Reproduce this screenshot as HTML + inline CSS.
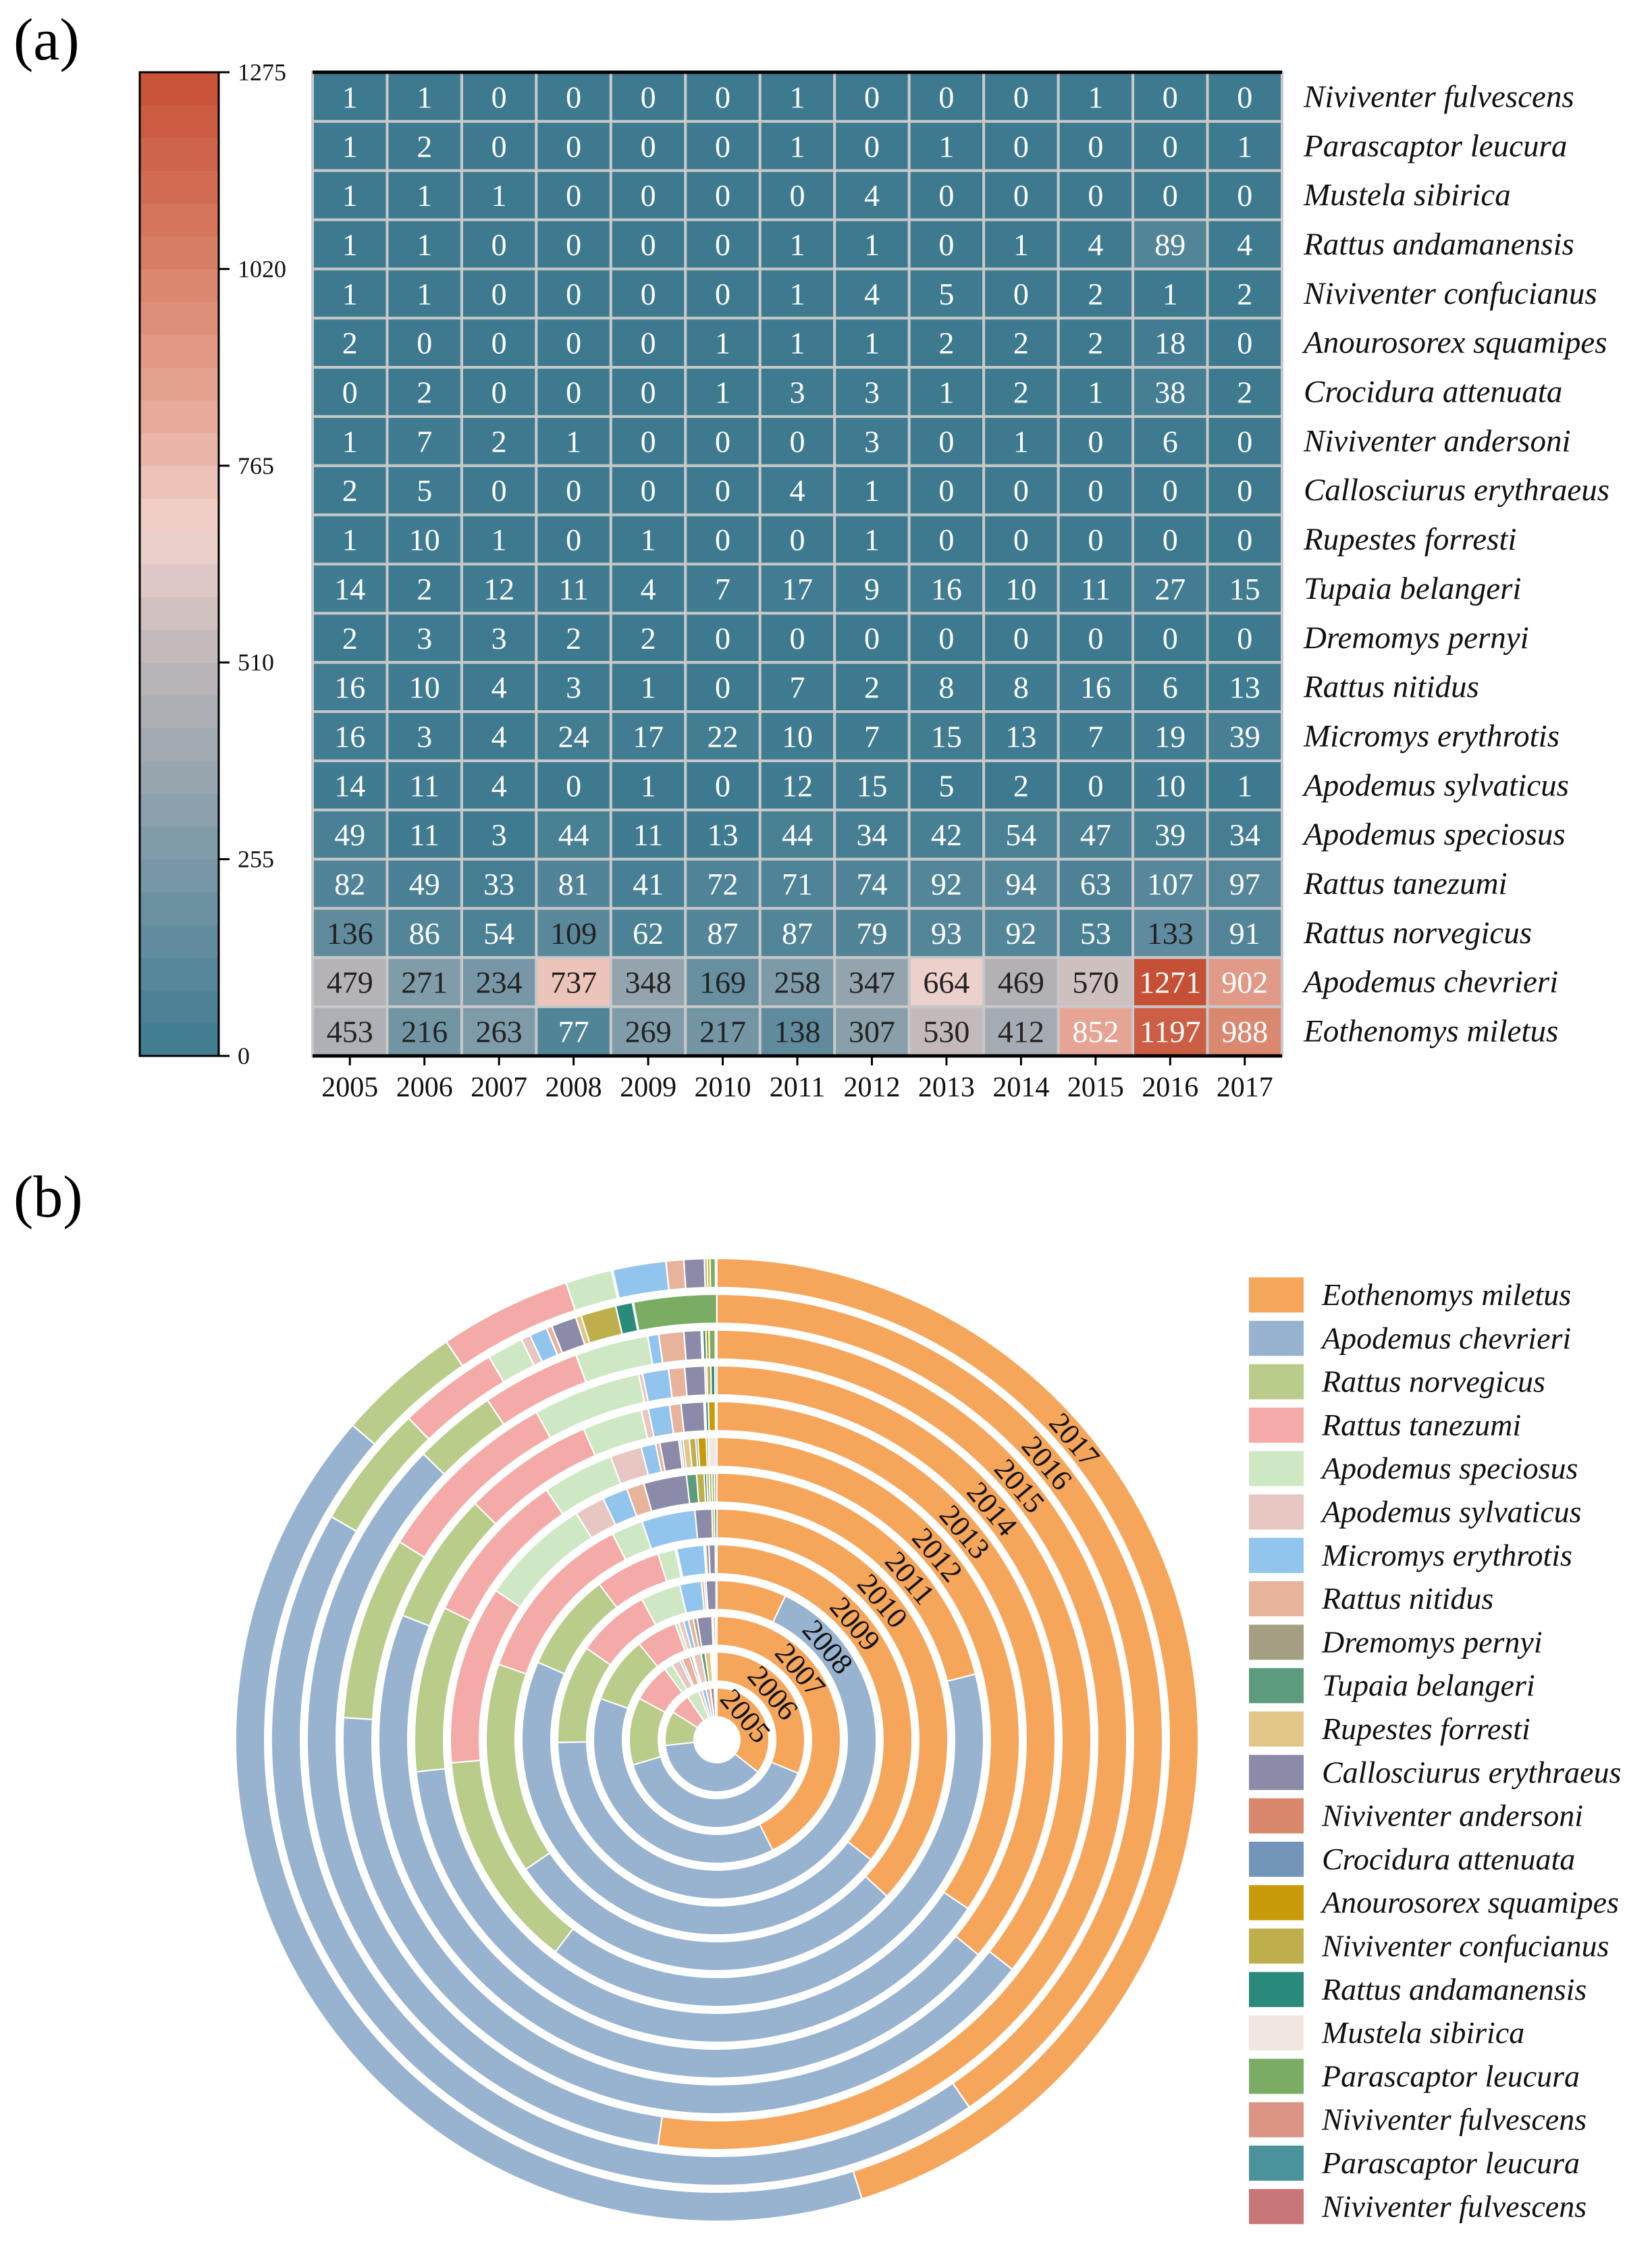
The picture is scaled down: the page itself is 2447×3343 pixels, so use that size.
<!DOCTYPE html>
<html><head><meta charset="utf-8"><style>
body{margin:0;background:#fff;}
svg{display:block;font-family:"Liberation Serif",serif;}
</style></head><body>
<svg id="fig" width="2447" height="3343" viewBox="0 0 2447 3343">
<text x="20" y="88" font-size="88">(a)</text>
<text x="20" y="1802" font-size="88">(b)</text>
<g id="heat"></g>
<g id="cbar"></g>
<g id="rings"></g>
<g id="legend"></g>
</svg>
<script>
const years = ["2005","2006","2007","2008","2009","2010","2011","2012","2013","2014","2015","2016","2017"];
const species = ["Niviventer fulvescens","Parascaptor leucura","Mustela sibirica","Rattus andamanensis","Niviventer confucianus","Anourosorex squamipes","Crocidura attenuata","Niviventer andersoni","Callosciurus erythraeus","Rupestes forresti","Tupaia belangeri","Dremomys pernyi","Rattus nitidus","Micromys erythrotis","Apodemus sylvaticus","Apodemus speciosus","Rattus tanezumi","Rattus norvegicus","Apodemus chevrieri","Eothenomys miletus"];
const rowNfulvescens = [1,1,0,0,0,0,1,0,0,0,1,0,0];
const rowParascaptor = [1,2,0,0,0,0,1,0,1,0,0,0,1];
const rowMustela = [1,1,1,0,0,0,0,4,0,0,0,0,0];
const rowRandamanensis = [1,1,0,0,0,0,1,1,0,1,4,89,4];
const rowNconfucianus = [1,1,0,0,0,0,1,4,5,0,2,1,2];
const rowAnourosorex = [2,0,0,0,0,1,1,1,2,2,2,18,0];
const rowCrocidura = [0,2,0,0,0,1,3,3,1,2,1,38,2];
const rowNandersoni = [1,7,2,1,0,0,0,3,0,1,0,6,0];
const rowCallosciurus = [2,5,0,0,0,0,4,1,0,0,0,0,0];
const rowRupestes = [1,10,1,0,1,0,0,1,0,0,0,0,0];
const rowTupaia = [14,2,12,11,4,7,17,9,16,10,11,27,15];
const rowDremomys = [2,3,3,2,2,0,0,0,0,0,0,0,0];
const rowRnitidus = [16,10,4,3,1,0,7,2,8,8,16,6,13];
const rowMicromys = [16,3,4,24,17,22,10,7,15,13,7,19,39];
const rowAsylvaticus = [14,11,4,0,1,0,12,15,5,2,0,10,1];
const rowAspeciosus = [49,11,3,44,11,13,44,34,42,54,47,39,34];
const rowRtanezumi = [82,49,33,81,41,72,71,74,92,94,63,107,97];
const rowRnorvegicus = [136,86,54,109,62,87,87,79,93,92,53,133,91];
const rowAchevrieri = [479,271,234,737,348,169,258,347,664,469,570,1271,902];
const rowEothenomys = [453,216,263,77,269,217,138,307,530,412,852,1197,988];
const matrix = [rowNfulvescens,rowParascaptor,rowMustela,rowRandamanensis,rowNconfucianus,rowAnourosorex,rowCrocidura,rowNandersoni,rowCallosciurus,rowRupestes,rowTupaia,rowDremomys,rowRnitidus,rowMicromys,rowAsylvaticus,rowAspeciosus,rowRtanezumi,rowRnorvegicus,rowAchevrieri,rowEothenomys];
const cbarTicks = [0,255,510,765,1020,1275];
const legendNames = ["Eothenomys miletus","Apodemus chevrieri","Rattus norvegicus","Rattus tanezumi","Apodemus speciosus","Apodemus sylvaticus","Micromys erythrotis","Rattus nitidus","Dremomys pernyi","Tupaia belangeri","Rupestes forresti","Callosciurus erythraeus","Niviventer andersoni","Crocidura attenuata","Anourosorex squamipes","Niviventer confucianus","Rattus andamanensis","Mustela sibirica","Parascaptor leucura","Niviventer fulvescens","Parascaptor leucura","Niviventer fulvescens"];
const legendColors = ["#f5a65b","#98b3cf","#b9cc8a","#f4aaa6","#cfe8c4","#e8c6c2","#92c5ee","#e7b39b","#a59e83","#5d9b7d","#e2c688","#8b8ba9","#d9876a","#7495ba","#c99b0b","#bfaf4c","#2a8a7c","#f0e8e0","#7aad63","#dc9584","#4a939c","#c97679"];
const ringOrder = ["Eothenomys miletus","Apodemus chevrieri","Rattus norvegicus","Rattus tanezumi","Apodemus speciosus","Apodemus sylvaticus","Micromys erythrotis","Rattus nitidus","Dremomys pernyi","Tupaia belangeri","Rupestes forresti","Callosciurus erythraeus","Niviventer andersoni","Crocidura attenuata","Anourosorex squamipes","Niviventer confucianus","Rattus andamanensis","Mustela sibirica","Parascaptor leucura","Niviventer fulvescens"];
const ringColors = ["#f5a65b","#98b3cf","#b9cc8a","#f4aaa6","#cfe8c4","#e8c6c2","#92c5ee","#e7b39b","#a59e83","#8b8ba9","#e8c6c2","#5d9b7d","#e2c688","#bfaf4c","#2a8a7c","#c99b0b","#7aad63","#f0e8e0","#7aad63","#dc9584"];

const NS="http://www.w3.org/2000/svg";
function mk(tag,attrs,parent){const e=document.createElementNS(NS,tag);for(const k in attrs)e.setAttribute(k,attrs[k]);parent.appendChild(e);return e;}
const stops=[[0,[61,122,144]],[255,[124,154,168]],[510,[189,182,185]],[680,[241,211,205]],[850,[230,165,149]],[1020,[217,129,105]],[1275,[198,79,53]]];
function color(v){for(let i=1;i<stops.length;i++){if(v<=stops[i][0]){const a=stops[i-1],b=stops[i];const t=(v-a[0])/(b[0]-a[0]);return "rgb("+a[1].map((c,j)=>Math.round(c+(b[1][j]-c)*t)).join(",")+")";}}return "rgb(198,79,53)";}
const X0=463,X1=1899,Y0=107,Y1=1564;
const cw=(X1-X0)/years.length, rh=(Y1-Y0)/species.length;
const xPos=i=>X0+i*cw, yPos=r=>Y0+r*rh;
const heat=document.getElementById('heat');
matrix.forEach((row,r)=>{row.forEach((v,c)=>{
  const rect=mk('rect',{x:xPos(c),y:yPos(r),width:cw,height:rh,fill:color(v),stroke:'#c8c8c8','stroke-width':4},heat);
  
  
  const dark=(v>=108&&v<=800);
  const t=mk('text',{x:xPos(c)+cw/2,y:yPos(r)+rh/2+16,'font-size':46,'text-anchor':'middle',fill:dark?'#222':'#fff'},heat);
  t.textContent=v;
  
  
});
  const lab=mk('text',{x:1931,y:yPos(r)+rh/2+15,'font-size':47,'font-style':'italic',fill:'#111'},heat);
  lab.textContent=species[r];
  
  
});
mk('line',{x1:X0,x2:X1,y1:Y0,y2:Y0,stroke:'#000','stroke-width':5},heat);
mk('line',{x1:X0,x2:X1,y1:Y1,y2:Y1,stroke:'#000','stroke-width':5},heat);
years.forEach((y,i)=>{
  mk('line',{x1:xPos(i)+cw/2,x2:xPos(i)+cw/2,y1:Y1,y2:Y1+14,stroke:'#000','stroke-width':3},heat);
  const t=mk('text',{x:xPos(i)+cw/2,y:Y1+60,'font-size':42,'text-anchor':'middle',fill:'#111'},heat);
  t.textContent=y;
  
  
});
const cb=document.getElementById('cbar');
const CX0=207,CX1=324,CMAX=1275;
const cy=v=>Y1-(v/CMAX)*(Y1-Y0);
const nb=30;
for(let i=0;i<nb;i++){const v0=i*CMAX/nb,v1=(i+1)*CMAX/nb;mk('rect',{x:CX0,y:cy(v1),width:CX1-CX0,height:cy(v0)-cy(v1)+0.5,fill:color((v0+v1)/2)},cb);}
mk('rect',{x:CX0,y:Y0,width:CX1-CX0,height:Y1-Y0,fill:'none',stroke:'#000','stroke-width':3},cb);
cbarTicks.forEach(v=>{
  mk('line',{x1:CX1,x2:CX1+16,y1:cy(v),y2:cy(v),stroke:'#000','stroke-width':3},cb);
  const t=mk('text',{x:CX1+28,y:cy(v)+12,'font-size':36,fill:'#111'},cb);
  t.textContent=v;
  
  
});
const rings=document.getElementById('rings');
const CXr=1062,CYr=2577,R0=34,pitch=53,band=43;
function pt(r,a){return [CXr+r*Math.sin(a),CYr-r*Math.cos(a)];}
function sector(r1,r2,a0,a1){const lg=(a1-a0)>Math.PI?1:0;const p1=pt(r2,a0),p2=pt(r2,a1),p3=pt(r1,a1),p4=pt(r1,a0);
return `M${p1}A${r2},${r2} 0 ${lg} 1 ${p2}L${p3}A${r1},${r1} 0 ${lg} 0 ${p4}Z`;}
years.forEach((y,yi)=>{
  const vals=ringOrder.map(n=>matrix[species.indexOf(n)][yi]);
  const tot=vals.reduce((a,b)=>a+b,0);
  const r1=R0+yi*pitch, r2=r1+band;
  let a=0;
  vals.forEach((v,k)=>{
    if(v<=0)return;
    const da=v/tot*2*Math.PI;
    const p=mk('path',{d:sector(r1,r2,a,a+da-0.0005),fill:ringColors[k],stroke:'#fff','stroke-width':2},rings);
    
    
    a+=da;
  });
  const ang=50*Math.PI/180, rm=(r1+r2)/2;
  const [lx,ly]=pt(rm,ang);
  const t=mk('text',{x:lx,y:ly+15,'font-size':44,'text-anchor':'middle',fill:'#111',transform:`rotate(${50},${lx},${ly})`},rings);
  t.textContent=y;
  
  
});
const lg=document.getElementById('legend');
legendNames.forEach((n,i)=>{
  const yc=1918+i*64.3;
  const s=mk('rect',{x:1850,y:yc-26,width:81,height:52,fill:legendColors[i]},lg);
  
  
  const t=mk('text',{x:1958,y:yc+15,'font-size':46,'font-style':'italic',fill:'#111'},lg);
  t.textContent=n;
  
  
});
</script>
</body></html>
